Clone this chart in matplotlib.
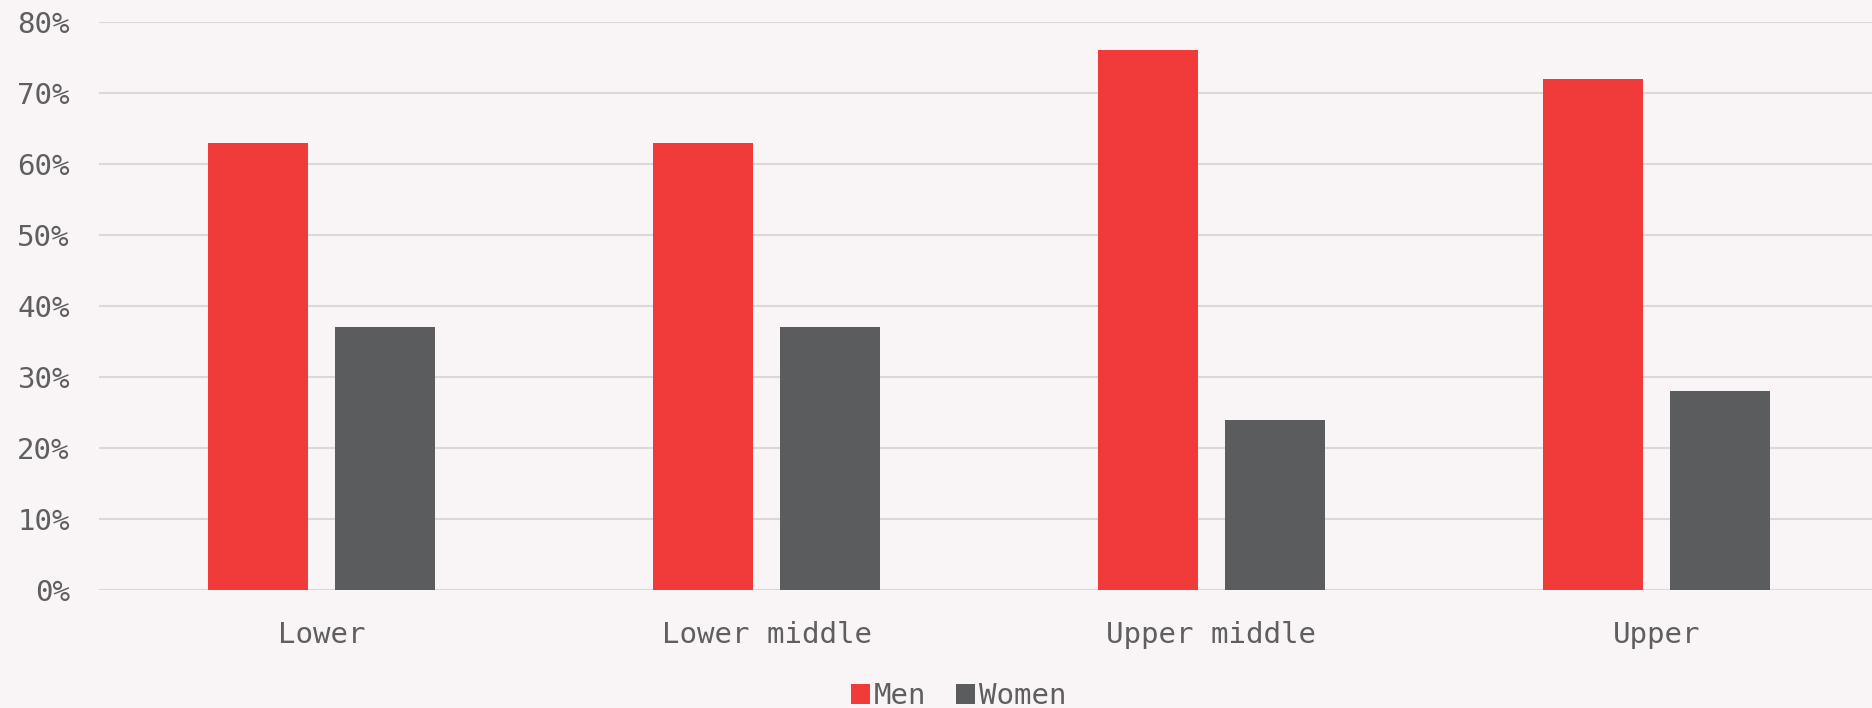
import matplotlib
matplotlib.use("Agg")
import numpy as np
from matplotlib import pyplot as plt
from matplotlib.patches import Patch

categories = ["Lower", "Lower middle", "Upper middle", "Upper"]
men = [63, 63, 76, 72]
women = [37, 37, 24, 28]
yticks = [0, 10, 20, 30, 40, 50, 60, 70, 80]

red = "#F13B3A"
grey = "#5B5C5E"
bg = "#F9F5F6"
text_col = "#5F5F5F"

plt.rcParams["font.family"] = ["DejaVu Sans Mono", "DejaVu Sans"]

fig = plt.figure(figsize=(18.72, 7.08), dpi=100, facecolor=bg)
# the axes runs a little past the right edge of the figure, like the reference
ax = fig.add_axes([99 / 1872, 0.1667, 1780 / 1872, 0.8023], facecolor=bg)

x = np.arange(len(categories))
w = 0.2255
off = 0.143
ax.bar(x - off, men, width=w, color=red, zorder=3, label="Men")
ax.bar(x + off, women, width=w, color=grey, zorder=3, label="Women")

ax.set_xlim(-0.5, len(categories) - 0.5)
ax.set_ylim(0, 80)
ax.set_yticks(yticks)
ax.set_yticklabels([f"{t}%" for t in yticks])
ax.set_xticks(x)
ax.set_xticklabels(categories)
ax.tick_params(axis="both", length=0, labelsize=21, labelcolor=text_col)
ax.tick_params(axis="y", pad=21)
ax.tick_params(axis="x", pad=22)
ax.grid(axis="y", color="#D9D9D9", linewidth=1.5, zorder=0)
for s in ax.spines.values():
    s.set_visible(False)

handles = [Patch(facecolor=red, label="Men"), Patch(facecolor=grey, label="Women")]
fig.legend(handles=handles, loc="lower center", bbox_to_anchor=(0.512, -0.04), ncol=2,
           frameon=False, fontsize=21, labelcolor=text_col, handlelength=0.65,
           handleheight=0.65, handletextpad=0.15, columnspacing=1.0)

fig.savefig("out.png", dpi=100, facecolor=bg)
